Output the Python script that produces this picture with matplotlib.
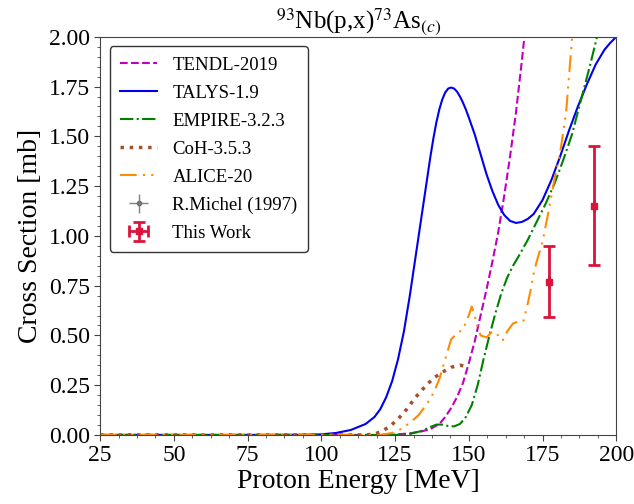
import numpy as np
import matplotlib.pyplot as plt
from matplotlib.ticker import AutoMinorLocator

plt.rcParams['font.family'] = ['Liberation Serif', 'DejaVu Serif']
plt.rcParams['mathtext.fontset'] = 'stix'

# TENDL-2019
e_tendl = [25, 100, 120, 125, 130, 134, 137, 140, 142, 144, 146, 148, 150,
           152, 154, 156, 158, 160, 162, 164, 166, 168, 169]
xs_tendl = [0, 0, 0, 0.002, 0.008, 0.018, 0.03, 0.055, 0.09, 0.135, 0.19,
            0.26, 0.36, 0.47, 0.60, 0.73, 0.87, 1.02, 1.20, 1.40, 1.62, 1.88, 2.02]

# TALYS-1.9
e_talys = [25, 50, 75, 95, 100, 105, 110, 115, 118, 120, 122, 124, 126, 128,
           130, 132, 134, 136, 137, 138, 139, 140, 141, 142, 143, 144, 145,
           146, 147, 148, 149, 150, 152, 154, 156, 158, 160, 162, 164, 166,
           168, 170, 172, 175, 178, 181, 184, 187, 190, 193, 196, 198, 200]
xs_talys = [0, 0, 0, 0.001, 0.003, 0.01, 0.025, 0.055, 0.09, 0.13, 0.19, 0.27,
            0.38, 0.52, 0.70, 0.90, 1.10, 1.30, 1.40, 1.49, 1.57, 1.635, 1.685,
            1.72, 1.74, 1.745, 1.74, 1.725, 1.70, 1.67, 1.635, 1.595, 1.51,
            1.41, 1.31, 1.225, 1.155, 1.105, 1.075, 1.065, 1.07, 1.085, 1.11,
            1.18, 1.28, 1.40, 1.53, 1.65, 1.76, 1.86, 1.935, 1.97, 2.0]

# EMPIRE-3.2.3
e_empire = [25, 100, 125, 130, 134, 137, 139, 141, 143, 145, 147, 149, 151,
            153, 155, 157, 159, 161, 163, 165, 167, 170, 173, 176, 179, 182,
            185, 188, 191, 194]
xs_empire = [0, 0, 0, 0.005, 0.02, 0.04, 0.052, 0.052, 0.045, 0.043, 0.055,
             0.09, 0.15, 0.25, 0.38, 0.50, 0.61, 0.71, 0.79, 0.85, 0.90, 0.98,
             1.07, 1.16, 1.26, 1.38, 1.51, 1.68, 1.85, 2.03]

# CoH-3.5.3
e_coh = [25, 100, 115, 118, 120, 123, 126, 129, 132, 135, 138, 141, 144, 147, 149]
xs_coh = [0, 0, 0, 0.005, 0.015, 0.04, 0.08, 0.13, 0.19, 0.24, 0.285, 0.315,
          0.34, 0.35, 0.345]

# ALICE-20
e_alice = [25, 100, 120, 124, 127, 130, 133, 136, 138, 140, 142, 144, 146,
           148, 150, 151, 152, 153, 154, 156, 158, 160, 161, 162, 163, 165,
           167, 168.5, 170, 171, 172, 173, 175, 177, 179, 181, 183, 185]
xs_alice = [0, 0, 0, 0.01, 0.03, 0.06, 0.10, 0.16, 0.21, 0.28, 0.38, 0.48,
            0.51, 0.53, 0.60, 0.645, 0.60, 0.54, 0.50, 0.49, 0.52, 0.50, 0.475,
            0.48, 0.52, 0.56, 0.57, 0.57, 0.66, 0.73, 0.81, 0.87, 0.97, 1.12,
            1.28, 1.42, 1.62, 1.99]

# This work
e_exp = [177.3, 192.5]
xs_exp = [0.77, 1.152]
dxs_exp = [0.18, 0.30]
de_exp = [0.0, 0.0]

fig = plt.figure(figsize=(6.34, 5.04), dpi=100)
ax = fig.add_axes([0.158, 0.137, 0.814, 0.79])

ax.plot(e_tendl, xs_tendl, color='m', linestyle='--', lw=1.5, label='TENDL-2019')
ax.plot(e_talys, xs_talys, color='#0000ee', linestyle='-', lw=1.5, label='TALYS-1.9')
ax.plot(e_empire, xs_empire, color='green', linestyle='-.', lw=1.5, label='EMPIRE-3.2.3')
ax.plot(e_coh, xs_coh, color='sienna', linestyle=':', lw=2.5, label='CoH-3.5.3')
ax.plot(e_alice, xs_alice, color='darkorange', linestyle=(0, (8, 3, 1, 3, 1, 3)),
        lw=1.5, label='ALICE-20')
ax.errorbar([], [], xerr=[], yerr=[], fmt='o', color='gray', ecolor='gray',
            ms=3, mfc='gray', mec='dimgray', elinewidth=1, capsize=0,
            label='R.Michel (1997)')
ax.errorbar(e_exp, xs_exp, xerr=de_exp, yerr=dxs_exp, fmt='s', color='crimson',
            ms=4, elinewidth=2, capsize=4, capthick=2, label='This Work')

ax.set_xlim(25, 200)
ax.set_ylim(0, 2.0)
ax.set_xticks([25, 50, 75, 100, 125, 150, 175, 200])
ax.set_yticks(np.arange(0, 2.01, 0.25))
ax.set_yticklabels([f'{v:.2f}' for v in np.arange(0, 2.01, 0.25)])
ax.xaxis.set_minor_locator(AutoMinorLocator(4))
ax.yaxis.set_minor_locator(AutoMinorLocator(5))
ax.tick_params(which='major', direction='out', length=4, labelsize=17, color='#444444')
ax.tick_params(which='minor', direction='out', length=2.5, color='#444444')
for s in ax.spines.values():
    s.set_color('#444444')

ax.set_xlabel('Proton Energy [MeV]', fontsize=20, labelpad=2)
ax.set_ylabel('Cross Section [mb]', fontsize=20, labelpad=4)
ax.set_title(r'$^{93}$Nb(p,x)$^{73}$As$_{(c)}$', fontsize=18, pad=6)

leg = ax.legend(loc='upper left', fontsize=13.5, frameon=True, edgecolor='#333333',
                handlelength=2.0, labelspacing=0.58, borderpad=0.55)
leg.get_frame().set_alpha(1)

fig.savefig('out.png', dpi=100)
